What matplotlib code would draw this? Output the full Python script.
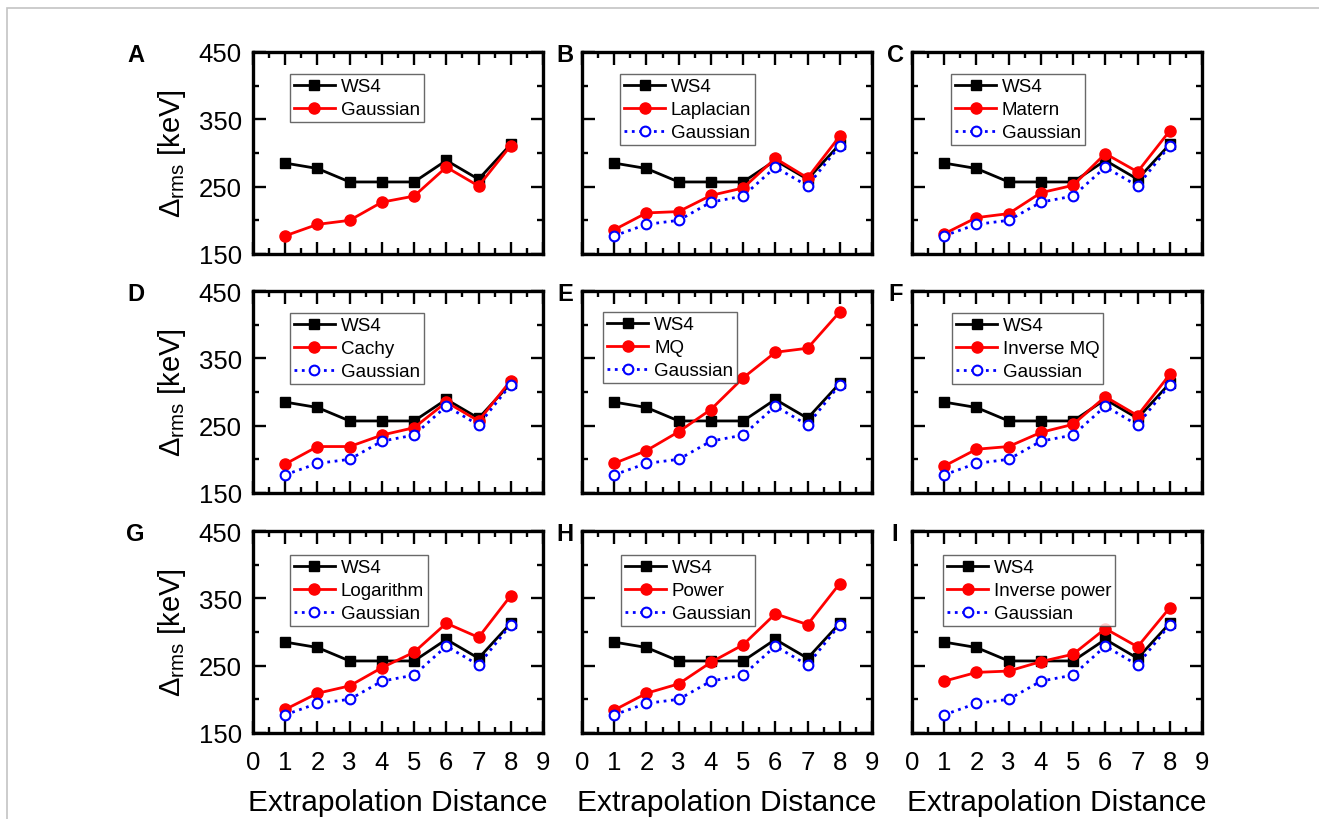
import matplotlib
matplotlib.use('Agg')
import matplotlib.pyplot as plt
from matplotlib.patches import Rectangle

plt.rcParams['font.family'] = ['Liberation Sans', 'DejaVu Sans']
plt.rcParams['mathtext.fontset'] = 'custom'
plt.rcParams['mathtext.rm'] = 'Liberation Sans'
plt.rcParams['mathtext.it'] = 'Liberation Sans:italic'

'''
    Data read off the reference
'''
x_dist = [1, 2, 3, 4, 5, 6, 7, 8]

ws4 = [285, 277, 257, 257, 257, 289, 261, 313]
gaussian = [177, 194, 200, 227, 236, 279, 251, 311]

laplacian = [186, 211, 213, 237, 248, 292, 263, 325]
matern = [180, 204, 210, 241, 252, 299, 272, 333]
cachy = [193, 219, 219, 236, 247, 285, 257, 317]
mq = [194, 213, 241, 274, 321, 359, 365, 419]
inverse_mq = [190, 215, 219, 240, 252, 293, 265, 326]
logarithm = [185, 209, 220, 247, 270, 313, 292, 354]
power = [184, 209, 223, 255, 281, 327, 311, 372]
inverse_power = [227, 240, 242, 256, 267, 305, 278, 336]

panel_letters = ['A', 'B', 'C', 'D', 'E', 'F', 'G', 'H', 'I']
method_names = ['Gaussian', 'Laplacian', 'Matern', 'Cachy', 'MQ',
                'Inverse MQ', 'Logarithm', 'Power', 'Inverse power']
method_values = [gaussian, laplacian, matern, cachy, mq,
                 inverse_mq, logarithm, power, inverse_power]

# legend upper-left corner (axes fraction) for each panel
legend_pos = [(0.128, 0.89), (0.132, 0.89), (0.135, 0.89),
              (0.128, 0.89), (0.074, 0.895), (0.139, 0.89),
              (0.128, 0.88), (0.135, 0.88), (0.108, 0.88)]

'''
    Figure
'''
W, H = 1319, 820
fig = plt.figure(figsize=(W / 100, H / 100), dpi=100)

# light frame round the figure (top and left edges only visible)
fig.add_artist(Rectangle((7 / W, -0.1), 2.0, 1.1 - 9 / H,
                         transform=fig.transFigure, fill=False,
                         edgecolor='#c4c4c4', lw=1.2))

col_left = [253, 582, 912]
row_top = [53, 292, 532]
ax_w, ax_h = 290, 202

for k in range(9):
    r, c = divmod(k, 3)
    ax = fig.add_axes([col_left[c] / W, 1 - (row_top[r] + ax_h) / H,
                       ax_w / W, ax_h / H])

    ax.plot(x_dist, ws4, '-s', color='black', lw=2.0, ms=7, label='WS4')
    ax.plot(x_dist, method_values[k], '-o', color='red', lw=2.0, ms=8,
            label=method_names[k])
    if k > 0:
        ax.plot(x_dist, gaussian, ':o', color='blue', lw=2.0, ms=7,
                mfc='white', mew=1.5, label='Gaussian')

    ax.set_xlim(0, 9)
    ax.set_ylim(150, 450)
    ax.set_xticks(range(10))
    ax.set_xticks([i + 0.5 for i in range(9)], minor=True)
    ax.set_yticks([150, 250, 350, 450])
    ax.set_yticks([200, 300, 400], minor=True)
    ax.tick_params(which='both', direction='in', top=True, right=True,
                   width=1.7, labelsize=18.5, pad=8)
    ax.tick_params(axis='x', which='both', pad=12)
    ax.tick_params(which='major', length=9)
    ax.tick_params(which='minor', length=4.5)
    for s in ax.spines.values():
        s.set_linewidth(2.4)

    if c == 0:
        ax.set_ylabel(r'$\Delta_{\rm rms}$ [keV]', fontsize=21, labelpad=8)
    else:
        ax.set_yticklabels([])
    if r == 2:
        ax.set_xlabel('Extrapolation Distance', fontsize=21.5, labelpad=10)
    else:
        ax.set_xticklabels([])

    lx = -0.405 if c == 0 else -0.058
    ax.text(lx, 0.99, panel_letters[k], transform=ax.transAxes,
            fontsize=17, fontweight='bold', ha='center', va='center')

    leg = ax.legend(loc='upper left', bbox_to_anchor=legend_pos[k],
                    fontsize=13.5, frameon=True, fancybox=False,
                    handlelength=2.2, handletextpad=0.3, labelspacing=0.32,
                    borderpad=0.2, borderaxespad=0.0)
    leg.get_frame().set_edgecolor('#444444')
    leg.get_frame().set_linewidth(1.0)

plt.savefig('out.png', dpi=100)
